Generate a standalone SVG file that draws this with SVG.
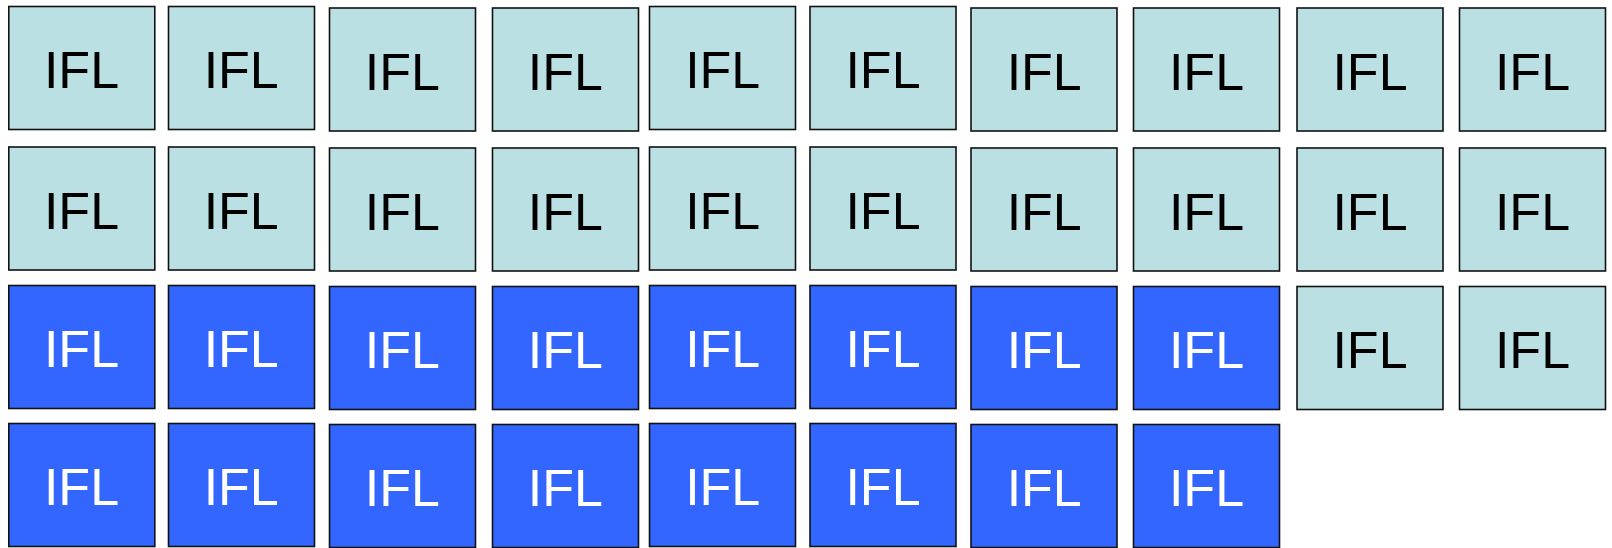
<svg xmlns="http://www.w3.org/2000/svg" width="1612" height="548" viewBox="0 0 1612 548">
<style>
.l{fill:#BBE0E3;stroke:#111;stroke-width:1.6}
.b{fill:#3366FF;stroke:#111;stroke-width:1.6}
text{font-family:"Liberation Sans",Arial,sans-serif;font-size:52px;text-anchor:middle}
.lt{fill:#000}
.bt{fill:#fff}
</style>
<rect width="1612" height="548" fill="#fff"/>
<g id="connectors"/>
<g id="r1c1"><rect class="l" x="8.8" y="6.5" width="146" height="123"/><text class="lt" x="81.5" y="88.2">IFL</text></g>
<g id="r1c2"><rect class="l" x="168.5" y="6.5" width="146" height="123"/><text class="lt" x="241.2" y="88.2">IFL</text></g>
<g id="r1c3"><rect class="l" x="329.5" y="8" width="146" height="123"/><text class="lt" x="402.4" y="89.8">IFL</text></g>
<g id="r1c4"><rect class="l" x="492.5" y="8" width="146" height="123"/><text class="lt" x="565.4" y="89.8">IFL</text></g>
<g id="r1c5"><rect class="l" x="649.5" y="6.5" width="146" height="123"/><text class="lt" x="722.7" y="88.2">IFL</text></g>
<g id="r1c6"><rect class="l" x="810" y="6.5" width="146" height="123"/><text class="lt" x="883" y="88.2">IFL</text></g>
<g id="r1c7"><rect class="l" x="971" y="8" width="146" height="123"/><text class="lt" x="1044.2" y="89.8">IFL</text></g>
<g id="r1c8"><rect class="l" x="1133.5" y="8" width="146" height="123"/><text class="lt" x="1206.5" y="89.8">IFL</text></g>
<g id="r1c9"><rect class="l" x="1297" y="8" width="146" height="123"/><text class="lt" x="1370" y="89.8">IFL</text></g>
<g id="r1c10"><rect class="l" x="1459.5" y="8" width="146" height="123"/><text class="lt" x="1532.5" y="89.8">IFL</text></g>

<g id="r2c1"><rect class="l" x="8.8" y="147" width="146" height="123"/><text class="lt" x="81.5" y="228.8">IFL</text></g>
<g id="r2c2"><rect class="l" x="168.5" y="147" width="146" height="123"/><text class="lt" x="241.2" y="228.8">IFL</text></g>
<g id="r2c3"><rect class="l" x="329.5" y="148" width="146" height="123"/><text class="lt" x="402.4" y="229.8">IFL</text></g>
<g id="r2c4"><rect class="l" x="492.5" y="148" width="146" height="123"/><text class="lt" x="565.4" y="229.8">IFL</text></g>
<g id="r2c5"><rect class="l" x="649.5" y="147" width="146" height="123"/><text class="lt" x="722.7" y="228.8">IFL</text></g>
<g id="r2c6"><rect class="l" x="810" y="147" width="146" height="123"/><text class="lt" x="883" y="228.8">IFL</text></g>
<g id="r2c7"><rect class="l" x="971" y="148" width="146" height="123"/><text class="lt" x="1044.2" y="229.8">IFL</text></g>
<g id="r2c8"><rect class="l" x="1133.5" y="148" width="146" height="123"/><text class="lt" x="1206.5" y="229.8">IFL</text></g>
<g id="r2c9"><rect class="l" x="1297" y="148" width="146" height="123"/><text class="lt" x="1370" y="229.8">IFL</text></g>
<g id="r2c10"><rect class="l" x="1459.5" y="148" width="146" height="123"/><text class="lt" x="1532.5" y="229.8">IFL</text></g>

<g id="r3c1"><rect class="b" x="8.8" y="285.5" width="146" height="123"/><text class="bt" x="81.5" y="367.2">IFL</text></g>
<g id="r3c2"><rect class="b" x="168.5" y="285.5" width="146" height="123"/><text class="bt" x="241.2" y="367.2">IFL</text></g>
<g id="r3c3"><rect class="b" x="329.5" y="286.5" width="146" height="123"/><text class="bt" x="402.4" y="368.2">IFL</text></g>
<g id="r3c4"><rect class="b" x="492.5" y="286.5" width="146" height="123"/><text class="bt" x="565.4" y="368.2">IFL</text></g>
<g id="r3c5"><rect class="b" x="649.5" y="285.5" width="146" height="123"/><text class="bt" x="722.7" y="367.2">IFL</text></g>
<g id="r3c6"><rect class="b" x="810" y="285.5" width="146" height="123"/><text class="bt" x="883" y="367.2">IFL</text></g>
<g id="r3c7"><rect class="b" x="971" y="286.5" width="146" height="123"/><text class="bt" x="1044.2" y="368.2">IFL</text></g>
<g id="r3c8"><rect class="b" x="1133.5" y="286.5" width="146" height="123"/><text class="bt" x="1206.5" y="368.2">IFL</text></g>
<g id="r3c9"><rect class="l" x="1297" y="286.5" width="146" height="123"/><text class="lt" x="1370" y="368.2">IFL</text></g>
<g id="r3c10"><rect class="l" x="1459.5" y="286.5" width="146" height="123"/><text class="lt" x="1532.5" y="368.2">IFL</text></g>

<g id="r4c1"><rect class="b" x="8.8" y="423.5" width="146" height="123"/><text class="bt" x="81.5" y="505.2">IFL</text></g>
<g id="r4c2"><rect class="b" x="168.5" y="423.5" width="146" height="123"/><text class="bt" x="241.2" y="505.2">IFL</text></g>
<g id="r4c3"><rect class="b" x="329.5" y="424.5" width="146" height="123"/><text class="bt" x="402.4" y="506.2">IFL</text></g>
<g id="r4c4"><rect class="b" x="492.5" y="424.5" width="146" height="123"/><text class="bt" x="565.4" y="506.2">IFL</text></g>
<g id="r4c5"><rect class="b" x="649.5" y="423.5" width="146" height="123"/><text class="bt" x="722.7" y="505.2">IFL</text></g>
<g id="r4c6"><rect class="b" x="810" y="423.5" width="146" height="123"/><text class="bt" x="883" y="505.2">IFL</text></g>
<g id="r4c7"><rect class="b" x="971" y="424.5" width="146" height="123"/><text class="bt" x="1044.2" y="506.2">IFL</text></g>
<g id="r4c8"><rect class="b" x="1133.5" y="424.5" width="146" height="123"/><text class="bt" x="1206.5" y="506.2">IFL</text></g>
</svg>
